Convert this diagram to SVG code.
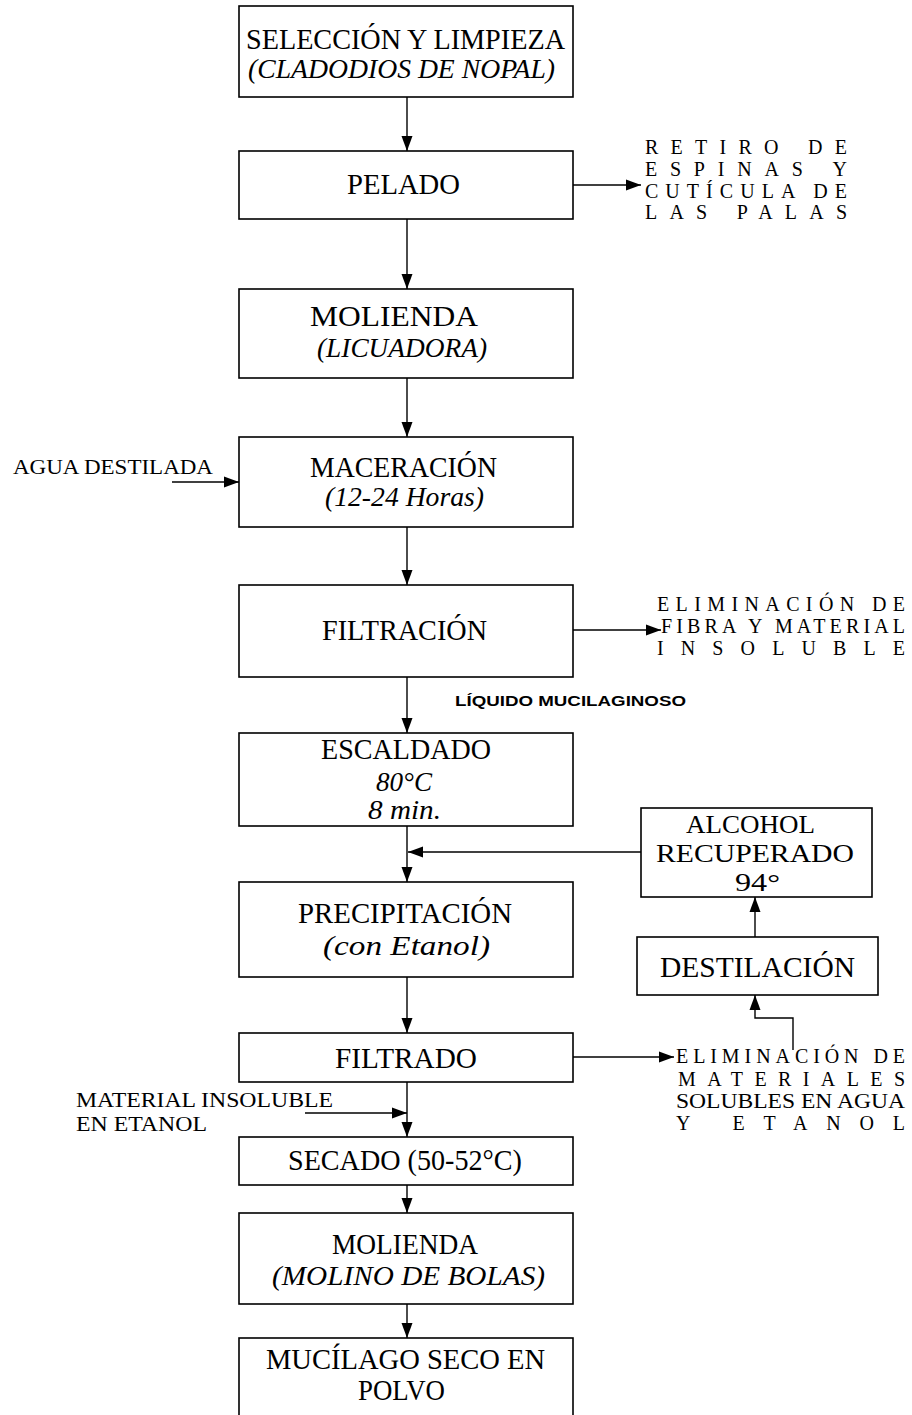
<svg xmlns="http://www.w3.org/2000/svg" width="912" height="1415" viewBox="0 0 912 1415">
<defs>
<marker id="ah" markerUnits="userSpaceOnUse" markerWidth="16" markerHeight="12" viewBox="0 0 16 12" refX="15" refY="6" orient="auto">
<path d="M0,0.5 L15,6 L0,11.5 z" fill="#000"/>
</marker>
<style>
.box{fill:#fff;stroke:#000;stroke-width:1.6}
.c{fill:none;stroke:#000;stroke-width:1.4}
.a{marker-end:url(#ah)}
text{font-family:"Liberation Serif","Times New Roman",serif;fill:#000}
.t{font-size:29px}
.t2{font-size:26px}
.i{font-size:27px;font-style:italic}
.s{font-size:20px}
.b{font-family:"Liberation Sans",Arial,sans-serif;font-weight:bold;font-size:14px}
</style>
</defs>
<rect width="912" height="1415" fill="#fff"/>

<g id="n-seleccion">
<rect class="box" x="239" y="6" width="334" height="91"/>
<text class="t" x="246" y="49" textLength="319" lengthAdjust="spacingAndGlyphs">SELECCIÓN Y LIMPIEZA</text>
<text class="i" x="248" y="78" textLength="307" lengthAdjust="spacingAndGlyphs">(CLADODIOS DE NOPAL)</text>
</g>
<g id="n-pelado">
<rect class="box" x="239" y="151" width="334" height="68"/>
<text class="t" x="347" y="194" textLength="113" lengthAdjust="spacingAndGlyphs">PELADO</text>
</g>
<g id="n-retiro">
<text class="s" x="645" y="154" textLength="202" lengthAdjust="spacing">RETIRO DE</text>
<text class="s" x="645" y="176" textLength="202" lengthAdjust="spacing">ESPINAS Y</text>
<text class="s" x="645" y="198" textLength="202" lengthAdjust="spacing">CUTÍCULA DE</text>
<text class="s" x="645" y="219" textLength="202" lengthAdjust="spacing">LAS PALAS</text>
</g>
<g id="n-molienda1">
<rect class="box" x="239" y="289" width="334" height="89"/>
<text class="t" x="310" y="326" textLength="168" lengthAdjust="spacingAndGlyphs">MOLIENDA</text>
<text class="i" x="317" y="357" textLength="170" lengthAdjust="spacingAndGlyphs">(LICUADORA)</text>
</g>
<g id="n-agua">
<text class="s" x="13" y="474" textLength="200" lengthAdjust="spacingAndGlyphs">AGUA DESTILADA</text>
</g>
<g id="n-maceracion">
<rect class="box" x="239" y="437" width="334" height="90"/>
<text class="t" x="310" y="477" textLength="187" lengthAdjust="spacingAndGlyphs">MACERACIÓN</text>
<text class="i" x="325" y="506" textLength="159" lengthAdjust="spacingAndGlyphs">(12-24 Horas)</text>
</g>
<g id="n-filtracion">
<rect class="box" x="239" y="585" width="334" height="92"/>
<text class="t" x="322" y="640" textLength="165" lengthAdjust="spacingAndGlyphs">FILTRACIÓN</text>
</g>
<g id="n-elim1">
<text class="s" x="657" y="611" textLength="248" lengthAdjust="spacing">ELIMINACIÓN DE</text>
<text class="s" x="661" y="633" textLength="244" lengthAdjust="spacing">FIBRA Y MATERIAL</text>
<text class="s" x="657" y="655" textLength="248" lengthAdjust="spacing">INSOLUBLE</text>
</g>
<g id="n-liquido">
<text class="b" x="455" y="706" textLength="231" lengthAdjust="spacingAndGlyphs">LÍQUIDO MUCILAGINOSO</text>
</g>
<g id="n-escaldado">
<rect class="box" x="239" y="733" width="334" height="93"/>
<text class="t" x="321" y="759" textLength="170" lengthAdjust="spacingAndGlyphs">ESCALDADO</text>
<text class="i" x="376" y="791" textLength="56" lengthAdjust="spacingAndGlyphs">80°C</text>
<text class="i" x="368" y="819" textLength="73" lengthAdjust="spacingAndGlyphs">8 min.</text>
</g>
<g id="n-alcohol">
<rect class="box" x="641" y="808" width="231" height="89"/>
<text class="t2" x="686" y="833" textLength="129" lengthAdjust="spacingAndGlyphs">ALCOHOL</text>
<text class="t2" x="656" y="862" textLength="198" lengthAdjust="spacingAndGlyphs">RECUPERADO</text>
<text class="t2" x="735" y="891" textLength="45" lengthAdjust="spacingAndGlyphs">94°</text>
</g>
<g id="n-precipitacion">
<rect class="box" x="239" y="882" width="334" height="95"/>
<text class="t" x="298" y="923" textLength="214" lengthAdjust="spacingAndGlyphs">PRECIPITACIÓN</text>
<text class="i" x="323" y="955" textLength="167" lengthAdjust="spacingAndGlyphs">(con Etanol)</text>
</g>
<g id="n-destilacion">
<rect class="box" x="637" y="937" width="241" height="58"/>
<text class="t" x="660" y="977" textLength="195" lengthAdjust="spacingAndGlyphs">DESTILACIÓN</text>
</g>
<g id="n-filtrado">
<rect class="box" x="239" y="1033" width="334" height="49"/>
<text class="t" x="335" y="1068" textLength="142" lengthAdjust="spacingAndGlyphs">FILTRADO</text>
</g>
<g id="n-elim2">
<text class="s" x="676" y="1063" textLength="229" lengthAdjust="spacing">ELIMINACIÓN DE</text>
<text class="s" x="678" y="1086" textLength="227" lengthAdjust="spacing">MATERIALES</text>
<text class="s" x="676" y="1108" textLength="229" lengthAdjust="spacingAndGlyphs">SOLUBLES EN AGUA</text>
<text class="s" x="676" y="1130" textLength="229" lengthAdjust="spacing">Y   ETANOL</text>
</g>
<g id="n-material">
<text class="s" x="76" y="1107" textLength="257" lengthAdjust="spacingAndGlyphs">MATERIAL INSOLUBLE</text>
<text class="s" x="76" y="1131" textLength="131" lengthAdjust="spacingAndGlyphs">EN ETANOL</text>
</g>
<g id="n-secado">
<rect class="box" x="239" y="1137" width="334" height="48"/>
<text class="t" x="288" y="1170" textLength="234" lengthAdjust="spacingAndGlyphs">SECADO (50-52°C)</text>
</g>
<g id="n-molienda2">
<rect class="box" x="239" y="1213" width="334" height="91"/>
<text class="t" x="332" y="1254" textLength="146" lengthAdjust="spacingAndGlyphs">MOLIENDA</text>
<text class="i" x="272" y="1285" textLength="273" lengthAdjust="spacingAndGlyphs">(MOLINO DE BOLAS)</text>
</g>
<g id="n-mucilago">
<rect class="box" x="239" y="1338" width="334" height="90"/>
<text class="t" x="266" y="1369" textLength="279" lengthAdjust="spacingAndGlyphs">MUCÍLAGO SECO EN</text>
<text class="t" x="358" y="1400" textLength="87" lengthAdjust="spacingAndGlyphs">POLVO</text>
</g>

<g id="connectors">
<line class="c a" x1="407" y1="97" x2="407" y2="151"/>
<line class="c a" x1="407" y1="219" x2="407" y2="289"/>
<line class="c a" x1="407" y1="378" x2="407" y2="437"/>
<line class="c a" x1="407" y1="527" x2="407" y2="585"/>
<line class="c a" x1="407" y1="677" x2="407" y2="733"/>
<line class="c a" x1="407" y1="826" x2="407" y2="882"/>
<line class="c a" x1="407" y1="977" x2="407" y2="1033"/>
<line class="c a" x1="407" y1="1082" x2="407" y2="1137"/>
<line class="c a" x1="407" y1="1185" x2="407" y2="1213"/>
<line class="c a" x1="407" y1="1304" x2="407" y2="1338"/>
<line class="c a" x1="573" y1="185" x2="641" y2="185"/>
<line class="c a" x1="172" y1="482" x2="239" y2="482"/>
<line class="c a" x1="573" y1="630" x2="661" y2="630"/>
<line class="c a" x1="641" y1="852" x2="408" y2="852"/>
<line class="c a" x1="755" y1="937" x2="755" y2="897"/>
<polyline class="c a" points="793,1050 793,1018 755,1018 755,995"/>
<line class="c a" x1="573" y1="1057" x2="674" y2="1057"/>
<line class="c a" x1="305" y1="1113" x2="407" y2="1113"/>
</g>
</svg>
